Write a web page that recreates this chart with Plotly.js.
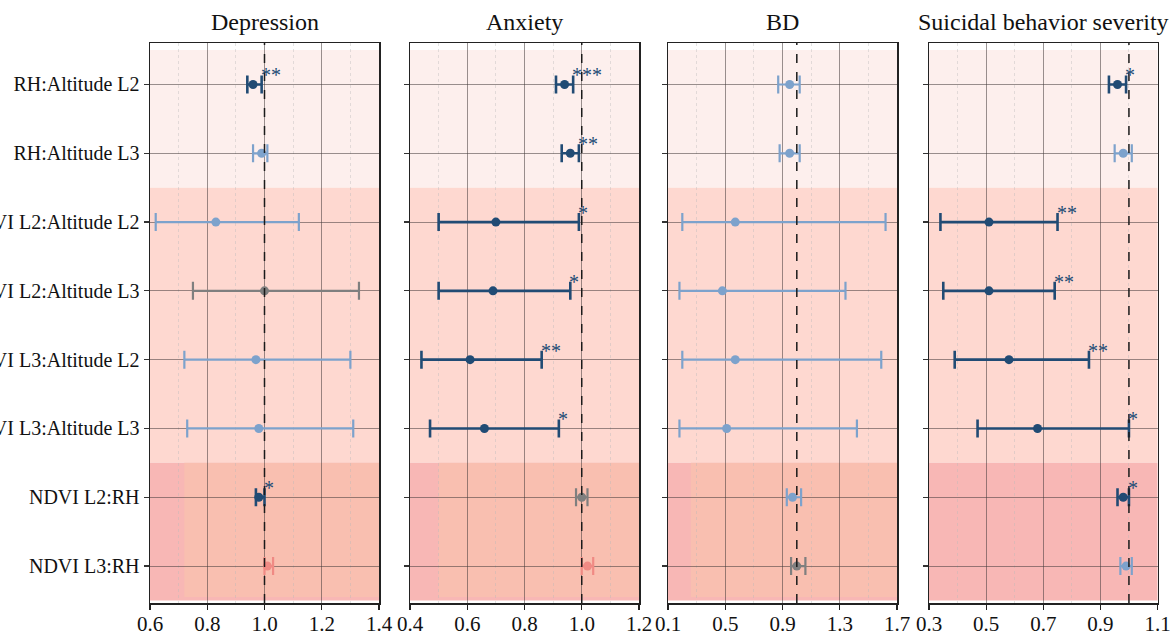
<!DOCTYPE html>
<html>
<head>
<meta charset="utf-8">
<script src="https://cdn.plot.ly/plotly-3.0.1.min.js"></script>
<style>html,body{margin:0;padding:0;background:#fff;}#chart{width:1173px;height:631px;}</style>
</head>
<body>
<div id="chart"></div>
<script>
// ---------- data ----------
const rowLabels = ["RH:Altitude L2", "RH:Altitude L3", "NDVI L2:Altitude L2", "NDVI L2:Altitude L3",
                   "NDVI L3:Altitude L2", "NDVI L3:Altitude L3", "NDVI L2:RH", "NDVI L3:RH"];
const panelTitles = ["Depression", "Anxiety", "BD", "Suicidal behavior severity"];

const depOR  = [0.96, 0.99, 0.83, 1.00, 0.97, 0.98, 0.98, 1.01];
const depLo  = [0.94, 0.96, 0.62, 0.75, 0.72, 0.73, 0.97, 1.00];
const depHi  = [0.99, 1.01, 1.12, 1.33, 1.30, 1.31, 1.00, 1.03];
const depCat = ["sig", "ns", "ns", "null", "ns", "ns", "sig", "pos"];
const depStars = ["**", "", "", "", "", "", "*", ""];

const anxOR  = [0.94, 0.96, 0.70, 0.69, 0.61, 0.66, 1.00, 1.02];
const anxLo  = [0.91, 0.93, 0.50, 0.50, 0.44, 0.47, 0.98, 1.00];
const anxHi  = [0.97, 0.99, 0.99, 0.96, 0.86, 0.92, 1.02, 1.04];
const anxCat = ["sig", "sig", "sig", "sig", "sig", "sig", "null", "pos"];
const anxStars = ["***", "**", "*", "*", "**", "*", "", ""];

const bdOR  = [0.95, 0.95, 0.57, 0.48, 0.57, 0.51, 0.97, 1.00];
const bdLo  = [0.87, 0.88, 0.20, 0.18, 0.20, 0.18, 0.93, 0.96];
const bdHi  = [1.02, 1.02, 1.62, 1.34, 1.59, 1.42, 1.03, 1.06];
const bdCat = ["ns", "ns", "ns", "ns", "ns", "ns", "ns", "null"];
const bdStars = ["", "", "", "", "", "", "", ""];

const sbsOR  = [0.96, 0.98, 0.51, 0.51, 0.58, 0.68, 0.98, 0.99];
const sbsLo  = [0.93, 0.95, 0.34, 0.35, 0.39, 0.47, 0.96, 0.97];
const sbsHi  = [0.99, 1.01, 0.75, 0.74, 0.86, 1.00, 1.00, 1.01];
const sbsCat = ["sig", "ns", "sig", "sig", "sig", "sig", "sig", "ns"];
const sbsStars = ["*", "", "**", "**", "**", "*", "*", ""];

const xRanges = [[0.6, 1.4], [0.4, 1.2], [0.1, 1.7], [0.3, 1.1]];
const majorTicks = [[0.6, 0.8, 1.0, 1.2, 1.4], [0.4, 0.6, 0.8, 1.0, 1.2],
                    [0.1, 0.5, 0.9, 1.3, 1.7], [0.3, 0.5, 0.7, 0.9, 1.1]];
const minorTicks = [[0.7, 0.9, 1.1, 1.3], [0.5, 0.7, 0.9, 1.1],
                    [0.3, 0.7, 1.1, 1.5], [0.4, 0.6, 0.8, 1.0]];
const refLine = 1.0;
// bands: [from row, to row]
const bandEdges = [[-0.5, 1.5], [1.5, 5.5], [5.5, 7.5]];

// ---------- styles ----------
const catColor = {sig: "#214b74", ns: "#7da2cc", null: "#7f7f7f", pos: "#f08a84"};
const catThick = {sig: 2.6, ns: 2.2, null: 2.2, pos: 2.2};
const bandColors = ["#fdefed", "#fed8d0", "#f8b7b5"];
const overlayColor = "#f9bfb0";
const overlayStart = [0.72, 0.50, 0.26, null];
const FONT = '"Liberation Serif", "Times New Roman", Times, serif';

const panels = [
  {or: depOR, lo: depLo, hi: depHi, cat: depCat, stars: depStars},
  {or: anxOR, lo: anxLo, hi: anxHi, cat: anxCat, stars: anxStars},
  {or: bdOR, lo: bdLo, hi: bdHi, cat: bdCat, stars: bdStars},
  {or: sbsOR, lo: sbsLo, hi: sbsHi, cat: sbsCat, stars: sbsStars}
];

const W = 1173, H = 631;
const xPix = [[150, 379], [410, 639], [668, 897], [929, 1157.5]];
const yTop = 43, yBot = 603;
const yDomain = [(H - yBot) / H, (H - yTop) / H];
const yRange = [7.537, -0.603];

const traces = [];
const shapes = [];
const annotations = [];
const layout = {
  width: W, height: H,
  margin: {l: 0, r: 0, t: 0, b: 0, pad: 0},
  paper_bgcolor: "#ffffff",
  plot_bgcolor: "#ffffff",
  showlegend: false,
  font: {family: FONT, color: "#111", size: 20}
};

panels.forEach((p, k) => {
  const sfx = k === 0 ? "" : String(k + 1);
  const xa = "x" + sfx, ya = "y" + sfx;
  for (let i = 0; i < p.or.length; i++) {
    const c = catColor[p.cat[i]];
    traces.push({
      type: "scatter", mode: "markers",
      x: [p.or[i]], y: [i], xaxis: xa, yaxis: ya,
      marker: {color: c, size: 9},
      error_x: {type: "data", symmetric: false,
        array: [p.hi[i] - p.or[i]], arrayminus: [p.or[i] - p.lo[i]],
        color: c, thickness: catThick[p.cat[i]], width: 9},
      hoverinfo: "x+y"
    });
    if (p.stars[i]) {
      annotations.push({
        xref: xa, yref: ya, x: p.hi[i], y: i, text: p.stars[i],
        showarrow: false, xanchor: "left", yanchor: "middle",
        xshift: -3, yshift: 9,
        font: {family: FONT, size: 20, color: catColor.sig}
      });
    }
  }
  // bands
  bandEdges.forEach((b, j) => {
    shapes.push({type: "rect", layer: "below", xref: xa + " domain", yref: ya,
      x0: 0, x1: 1, y0: b[0], y1: b[1], fillcolor: bandColors[j], line: {width: 0}});
  });
  if (overlayStart[k] !== null) {
    shapes.push({type: "rect", layer: "below", xref: xa, yref: ya,
      x0: overlayStart[k], x1: xRanges[k][1], y0: 5.5, y1: 7.45,
      fillcolor: overlayColor, line: {width: 0}});
  }
  // reference line
  shapes.push({type: "line", layer: "above", xref: xa, yref: ya + " domain",
    x0: refLine, x1: refLine, y0: 0, y1: 1,
    line: {color: "#1a1a1a", width: 1.5, dash: "dash"}});
  // title
  annotations.push({
    xref: xa + " domain", yref: "paper", x: 0.5, y: 1 - 22 / H,
    text: panelTitles[k], showarrow: false, xanchor: "center", yanchor: "middle",
    font: {family: FONT, size: 24, color: "#111"}
  });

  layout["xaxis" + sfx] = {
    domain: [xPix[k][0] / W, xPix[k][1] / W],
    anchor: ya, range: xRanges[k],
    tickmode: "array", tickvals: majorTicks[k], tickformat: ".1f",
    ticks: "outside", ticklen: 5, tickwidth: 1.2, tickcolor: "#222",
    ticklabelstandoff: -4,
    tickfont: {family: FONT, size: 21, color: "#111"},
    showgrid: true, gridcolor: "rgba(70,60,60,0.55)", gridwidth: 1,
    minor: {tickmode: "array", tickvals: minorTicks[k], showgrid: true,
            gridcolor: "rgba(185,185,185,0.4)", griddash: "dot", gridwidth: 1, ticks: ""},
    zeroline: false, showline: true, linecolor: "#222", linewidth: 1.5, mirror: true
  };
  layout["yaxis" + sfx] = {
    domain: yDomain, anchor: xa, range: yRange,
    tickmode: "array", tickvals: rowLabels.map((_, i) => i),
    ticktext: rowLabels, showticklabels: k === 0,
    ticks: "outside", ticklen: 5, tickwidth: 1.2, tickcolor: "#333",
    tickfont: {family: FONT, size: 20, color: "#111"},
    showgrid: true, gridcolor: "rgba(70,60,60,0.55)", gridwidth: 1,
    zeroline: false, showline: true, linecolor: "#222", linewidth: 1.5, mirror: true
  };
});

layout.shapes = shapes;
layout.annotations = annotations;

Plotly.newPlot("chart", traces, layout, {displayModeBar: false, staticPlot: true});
</script>
</body>
</html>
